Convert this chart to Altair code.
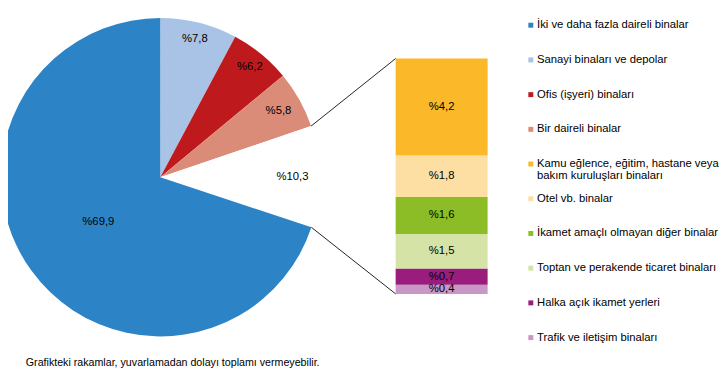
import math
import altair as alt
import pandas as pd

# ---------------- data ----------------
pie_cats = ["İki ve daha fazla daireli binalar", "Sanayi binaları ve depolar",
            "Ofis (işyeri) binaları", "Bir daireli binalar"]
pie_vals = [69.9, 7.8, 6.2, 5.8]
other_cat = "Diğer"
other_val = 10.3
bar_cats = ["Kamu eğlence, eğitim, hastane veya\nbakım kuruluşları binaları",
            "Otel vb. binalar", "İkamet amaçlı olmayan diğer binalar",
            "Toptan ve perakende ticaret binaları", "Halka açık ikamet yerleri",
            "Trafik ve iletişim binaları"]
bar_vals = [4.2, 1.8, 1.6, 1.5, 0.7, 0.4]
footnote = "Grafikteki rakamlar, yuvarlamadan dolayı toplamı vermeyebilir."

pie_colors = ["#2C83C6", "#A8C3E6", "#BE1A1D", "#DB8C79"]
bar_colors = ["#FBB829", "#FDDEA3", "#8DBD26", "#D5E3A6", "#9A1C7C", "#C997C6"]

# ---------------- layout ----------------
W, H = 719, 373
CX, CY, R = 154, 169, 161
BX0, BX1, BTOP, BBOT = 392, 485, 49, 287
FONT = "Liberation Sans"
LABEL_FS = 11.4


def pct(v):
    return "%" + f"{v:.1f}".replace(".", ",")


# pie: clockwise from 12 o'clock: small slices, other, big slice
seq = [(pie_cats[1], pie_vals[1]), (pie_cats[2], pie_vals[2]), (pie_cats[3], pie_vals[3]),
       (other_cat, other_val), (pie_cats[0], pie_vals[0])]
label_r = [0.895, 0.89, 0.85, 0.83, 0.48]
total_pie = sum(v for _, v in seq)
pie_rows = []
acc = 0.0
for i, (c, v) in enumerate(seq):
    mid = 2 * math.pi * (acc + v / 2) / total_pie
    pie_rows.append({"cat": c, "val": v, "ord": i, "lab": pct(v), "lr": label_r[i] * R, "mid": mid})
    acc += v
pie_df = pd.DataFrame(pie_rows)

color_scale = alt.Scale(domain=pie_cats + [other_cat] + bar_cats,
                        range=pie_colors + ["#FFFFFF"] + bar_colors)

# bar: stacked from bottom (last category) to top (first)
tot = sum(bar_vals)
rows = []
acc = 0.0
for c, v in reversed(list(zip(bar_cats, bar_vals))):
    rows.append({"cat": c, "val": v, "y0": acc, "y1": acc + v, "mid": acc + v / 2, "lab": pct(v)})
    acc += v
bar_df = pd.DataFrame(rows)
yscale = alt.Scale(domain=[0, tot], range=[BBOT, BTOP])

# legend
leg_rows = []
all_cats = pie_cats + bar_cats
for i, c in enumerate(all_cats):
    yc = 15.3 + 35.1 * i
    leg_rows.append({"cat": c, "y": yc, "first": True, "txt": c.split("\n")[0]})
    for j, extra in enumerate(c.split("\n")[1:]):
        leg_rows.append({"cat": c, "y": yc + 12.4 * (j + 1), "first": False, "txt": extra})
leg_df = pd.DataFrame(leg_rows)

arcs = alt.Chart(pie_df).mark_arc(radius=R, stroke=None).encode(
    theta=alt.Theta("val:Q", stack=True),
    order=alt.Order("ord:Q"),
    color=alt.Color("cat:N", scale=color_scale, legend=None),
    x=alt.value(CX), y=alt.value(CY),
)
arc_text = alt.Chart(pie_df).mark_text(font=FONT, fontSize=LABEL_FS, color="#000000").encode(
    theta=alt.Theta("mid:Q", scale=None),
    radius=alt.Radius("lr:Q", scale=None),
    text="lab:N",
    x=alt.value(CX), y=alt.value(CY),
)

bars = alt.Chart(bar_df).mark_bar(stroke=None).encode(
    x=alt.value(BX0), x2=alt.value(BX1),
    y=alt.Y("y0:Q", scale=yscale, axis=None), y2="y1:Q",
    color=alt.Color("cat:N", scale=color_scale, legend=None),
)
bar_text = alt.Chart(bar_df).mark_text(font=FONT, fontSize=LABEL_FS, color="#000000").encode(
    x=alt.value((BX0 + BX1) / 2),
    y=alt.Y("mid:Q", scale=yscale, axis=None),
    text="lab:N",
)

a1 = 2 * math.pi * sum(pie_vals[1:]) / total_pie
a2 = 2 * math.pi * (sum(pie_vals[1:]) + other_val) / total_pie
one = pd.DataFrame({"k": [0]})
line1 = alt.Chart(one).mark_rule(color="#222222", strokeWidth=1).encode(
    x=alt.value(CX + R * math.sin(a1)), y=alt.value(CY - R * math.cos(a1)),
    x2=alt.value(BX0), y2=alt.value(BTOP))
line2 = alt.Chart(one).mark_rule(color="#222222", strokeWidth=1).encode(
    x=alt.value(CX + R * math.sin(a2)), y=alt.value(CY - R * math.cos(a2)),
    x2=alt.value(BX0), y2=alt.value(BBOT))

leg_sq = alt.Chart(leg_df).transform_filter("datum.first").mark_square(size=25, opacity=1).encode(
    x=alt.value(528.7),
    y=alt.Y("y:Q", scale=None, axis=None),
    color=alt.Color("cat:N", scale=color_scale, legend=None),
)
leg_txt = alt.Chart(leg_df).mark_text(font=FONT, fontSize=11.4, align="left", baseline="middle",
                                      color="#000000").encode(
    x=alt.value(535),
    y=alt.Y("y:Q", scale=None, axis=None),
    text="txt:N",
)
foot = alt.Chart(pd.DataFrame({"t": [footnote]})).mark_text(
    font=FONT, fontSize=10.8, align="left", baseline="middle", color="#000000").encode(
    x=alt.value(18), y=alt.value(357), text="t:N")

chart = alt.layer(arcs, arc_text, bars, bar_text, line1, line2, leg_sq, leg_txt, foot).resolve_scale(
    y="independent", theta="independent"
).properties(
    width=W, height=H, padding=0, autosize=alt.AutoSizeParams(type="none"), background="white"
).configure_view(stroke=None)

chart.save("out.html", embed_options={"renderer": "svg", "actions": False})
